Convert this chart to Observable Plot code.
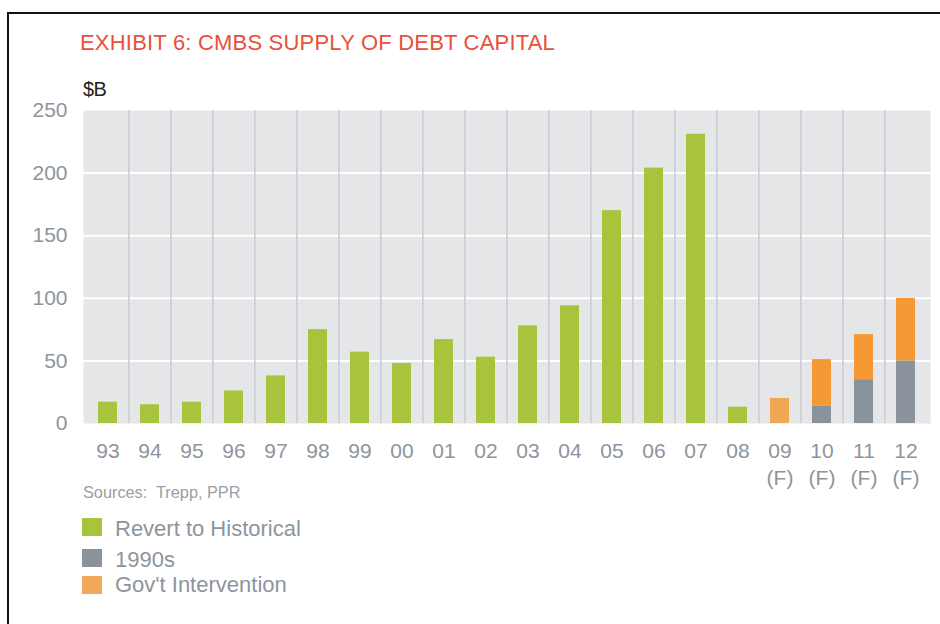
<!DOCTYPE html>
<html><head><meta charset="utf-8">
<script src="https://cdn.jsdelivr.net/npm/d3@7"></script>
<script src="https://cdn.jsdelivr.net/npm/@observablehq/plot@0.6"></script>
<style>
  html,body{margin:0;padding:0;background:#fff;overflow:hidden;}
  body{width:940px;height:624px;position:relative;font-family:"Liberation Sans",Arial,sans-serif;}
  .frame{position:absolute;left:7px;top:12px;width:1000px;height:700px;border:2px solid #111;box-sizing:border-box;}
  .title{position:absolute;left:80px;top:32px;font-size:22px;line-height:22px;color:#e8503a;letter-spacing:0.2px;white-space:nowrap;}
  .unit{position:absolute;left:83px;top:79px;font-size:20px;line-height:20px;color:#222;letter-spacing:-0.5px;z-index:2;}
  #chart{position:absolute;left:0;top:80px;}
  .src{position:absolute;left:83px;top:484px;font-size:16.3px;line-height:16px;color:#98a0a7;white-space:nowrap;}
  .leg{position:absolute;left:82px;font-size:22px;line-height:22px;color:#8c959e;white-space:nowrap;}
</style>
</head><body>
<div class="frame"></div>
<div class="title">EXHIBIT 6: CMBS SUPPLY OF DEBT CAPITAL</div>
<div id="chart"></div>
<div class="unit">$B</div>
<div class="src">Sources:&nbsp; Trepp, PPR</div>
<div id="legend"></div>
<script>
const years = ["93","94","95","96","97","98","99","00","01","02","03","04","05","06","07","08","09","10","11","12"];
const tickLabels = ["93","94","95","96","97","98","99","00","01","02","03","04","05","06","07","08","09\n(F)","10\n(F)","11\n(F)","12\n(F)"];
const revertToHistorical = [17,15,17,26,38,75,57,48,67,53,78,94,170,204,231,13,0,0,0,0];
const nineties =           [0,0,0,0,0,0,0,0,0,0,0,0,0,0,0,0,0,14,35,50];
const govtIntervention =   [0,0,0,0,0,0,0,0,0,0,0,0,0,0,0,0,20,37,36,50];
const seriesNames = ["Revert to Historical","1990s","Gov't Intervention"];
const yTicks = [0,50,100,150,200,250];

const colors = {"Revert to Historical":"#a8c43c","1990s":"#8a939b","Gov't Intervention":"#f39a35"};

const rows = [];
years.forEach((y,i)=>{
  rows.push({year:y, series:"1990s", value:nineties[i]});
  rows.push({year:y, series:"Gov't Intervention", value:govtIntervention[i]});
  rows.push({year:y, series:"Revert to Historical", value:revertToHistorical[i]});
});
const data = rows.filter(d=>d.value>0);

const W=940, H=420, ML=83, MR=10, MT=30, MB=77;
const step = (W-ML-MR)/years.length;
const labelOf = Object.fromEntries(years.map((y,i)=>[y,tickLabels[i]]));

const chart = Plot.plot({
  width:W, height:H,
  marginLeft:ML, marginRight:MR, marginTop:MT, marginBottom:MB,
  style:{fontFamily:"Liberation Sans, Arial, sans-serif", fontSize:"21px", color:"#8c959e", background:"transparent"},
  x:{domain:years, paddingInner:0.55, paddingOuter:0.275, label:null},
  y:{domain:[0,250], label:null},
  marks:[
    Plot.frame({fill:"#e5e6e8", stroke:"none"}),
    Plot.gridY([50,100,150,200], {stroke:"#ffffff", strokeOpacity:1, strokeWidth:2}),
    Plot.ruleX(years.slice(1), {x:d=>d, dx:-step/2, stroke:"#c9ccd0", strokeWidth:1.5}),
    Plot.barY(data, Plot.stackY({
      x:"year", y:"value", z:"series",
      order:["1990s","Gov't Intervention","Revert to Historical"],
      fill:d=>colors[d.series],
      fillOpacity:d=>d.year==="09"?0.82:1
    })),
    Plot.axisY(yTicks, {tickSize:0, tickPadding:16, fill:"#8c959e", fontSize:21, label:null}),
    Plot.axisX({tickSize:0, tickPadding:15, fill:"#8c959e", fontSize:21, lineHeight:1.3, tickFormat:d=>labelOf[d], label:null})
  ]
});
document.getElementById("chart").appendChild(chart);

const swatchTops = [518,549,576];
const textTops = [518,549,574];
const leg = document.getElementById("legend");
seriesNames.forEach((s,i)=>{
  const sw = document.createElement("span");
  sw.className="leg"; sw.style.top = swatchTops[i]+"px";
  sw.style.width="20px"; sw.style.height="18px";
  sw.style.background = s==="Gov't Intervention" ? "#f4a85a" : colors[s];
  const tx = document.createElement("span");
  tx.className="leg"; tx.style.left="115px"; tx.style.top = textTops[i]+"px";
  tx.textContent = s;
  leg.appendChild(sw); leg.appendChild(tx);
});
</script>
</body></html>
